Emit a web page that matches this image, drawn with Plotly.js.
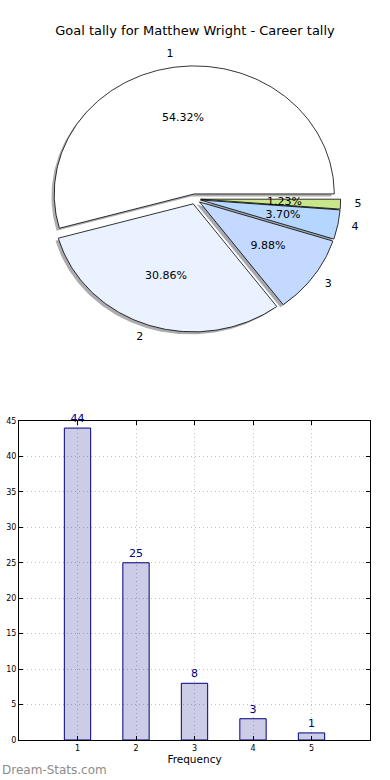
<!DOCTYPE html>
<html>
<head>
<meta charset="utf-8">
<script src="https://cdn.plot.ly/plotly-3.0.1.min.js"></script>
<style>html,body{margin:0;padding:0;background:#fff;}#chart{width:390px;height:780px;}</style>
</head>
<body>
<div id="chart"></div>
<script>
// ---- data ----
const goals = ['1', '2', '3', '4', '5'];
const goalNums = [1, 2, 3, 4, 5];
const freq = [44, 25, 8, 3, 1];
const pieColors = ['#ffffff', '#eaf1ff', '#c4d9ff', '#b4d6ff', '#c8e68c'];
const titleText = 'Goal tally for Matthew Wright - Career tally';
const xTitle = 'Frequency';
const watermark = 'Dream-Stats.com';

// ---- pie geometry (pie units: radius = 1) ----
const explode = 0.04;
const shadowOff = [-0.02, -0.02];
const total = freq.reduce((a, b) => a + b, 0);

function hexToRgb(h) {
  const n = parseInt(h.slice(1), 16);
  return [(n >> 16) & 255, (n >> 8) & 255, n & 255];
}

const traces = [];
const shadowTraces = [];
const sliceTraces = [];
const labX = [], labY = [], labPos = [];
const pctX = [], pctY = [], pctT = [];
let cum = 0;
freq.forEach((v, i) => {
  const a0 = cum / total * 2 * Math.PI;
  cum += v;
  const a1 = cum / total * 2 * Math.PI;
  const am = (a0 + a1) / 2;
  const ox = explode * Math.cos(am), oy = explode * Math.sin(am);
  const xs = [ox], ys = [oy];
  const n = Math.max(4, Math.ceil((a1 - a0) / (Math.PI / 180)));
  for (let k = 0; k <= n; k++) {
    const a = a0 + (a1 - a0) * k / n;
    xs.push(ox + Math.cos(a));
    ys.push(oy + Math.sin(a));
  }
  xs.push(ox); ys.push(oy);
  const rgb = hexToRgb(pieColors[i]);
  shadowTraces.push({
    type: 'scatter', mode: 'lines', xaxis: 'x2', yaxis: 'y2',
    x: xs.map(x => x + shadowOff[0]), y: ys.map(y => y + shadowOff[1]),
    fill: 'toself', line: {width: 0},
    fillcolor: `rgba(${Math.round(rgb[0]*0.3)},${Math.round(rgb[1]*0.3)},${Math.round(rgb[2]*0.3)},0.45)`,
    hoverinfo: 'skip', showlegend: false
  });
  sliceTraces.push({
    type: 'scatter', mode: 'lines', xaxis: 'x2', yaxis: 'y2',
    x: xs, y: ys, fill: 'toself', fillcolor: pieColors[i],
    line: {color: '#000000', width: 0.8},
    name: goals[i], hoverinfo: 'name', showlegend: false
  });
  labX.push(ox + 1.1 * Math.cos(am));
  labY.push(oy + 1.1 * Math.sin(am));
  labPos.push(Math.cos(am) > 0 ? 'middle right' : 'middle left');
  pctX.push(ox + 0.6 * Math.cos(am));
  pctY.push(oy + 0.6 * Math.sin(am));
  pctT.push((v / total * 100).toFixed(2) + '%');
});

traces.push(...shadowTraces, ...sliceTraces);
traces.push({
  type: 'scatter', mode: 'text', xaxis: 'x2', yaxis: 'y2',
  x: labX, y: labY, text: goals, textposition: labPos,
  textfont: {family: 'DejaVu Sans', size: 11, color: '#000'},
  hoverinfo: 'skip', showlegend: false, cliponaxis: false
});
traces.push({
  type: 'scatter', mode: 'text', xaxis: 'x2', yaxis: 'y2',
  x: pctX, y: pctY, text: pctT, textposition: 'middle center',
  textfont: {family: 'DejaVu Sans', size: 11, color: '#000'},
  hoverinfo: 'skip', showlegend: false, cliponaxis: false
});

// ---- bar chart ----
traces.push({
  type: 'bar', x: goalNums, y: freq, width: 0.45,
  marker: {color: 'rgba(0,0,128,0.2)', line: {color: '#000080', width: 1}},
  text: freq.map(String), textposition: 'outside',
  textfont: {family: 'DejaVu Sans', size: 11, color: '#000080'},
  cliponaxis: false, showlegend: false, hoverinfo: 'x+y'
});

const W = 390, H = 780;
const pieCx = 195, pieCy = 199, rx = 140, ry = 128;

const layout = {
  width: W, height: H,
  margin: {l: 0, r: 0, t: 0, b: 0, pad: 0},
  paper_bgcolor: '#fff', plot_bgcolor: 'rgba(0,0,0,0)',
  font: {family: 'DejaVu Sans', color: '#000'},
  title: {text: titleText, x: 0.5, xanchor: 'center', y: 1 - 30 / H, yanchor: 'middle',
          font: {family: 'DejaVu Sans', size: 13, color: '#000'}},
  showlegend: false,
  bargap: 0,
  xaxis: {
    domain: [19 / W, 370 / W], range: [0, 6],
    tickvals: goalNums, ticktext: goals,
    tickfont: {family: 'DejaVu Sans', size: 8, color: '#000'},
    ticks: 'inside', ticklen: 4, tickcolor: '#000', tickwidth: 1,
    showline: true, linecolor: '#000', linewidth: 1, mirror: 'ticks',
    showgrid: true, gridcolor: '#c4c4c4', griddash: '1px,3px', gridwidth: 1,
    zeroline: false, fixedrange: true,
    title: {text: xTitle, font: {family: 'DejaVu Sans', size: 10.5, color: '#000'}, standoff: 4}
  },
  yaxis: {
    domain: [(H - 740) / H, (H - 421) / H], range: [0, 45], dtick: 5, tick0: 0,
    tickfont: {family: 'DejaVu Sans', size: 8, color: '#000'},
    ticks: 'inside', ticklen: 4, tickcolor: '#000', tickwidth: 1,
    showline: true, linecolor: '#000', linewidth: 1, mirror: 'ticks',
    showgrid: true, gridcolor: '#c4c4c4', griddash: '1px,3px', gridwidth: 1,
    zeroline: false, fixedrange: true
  },
  xaxis2: {
    domain: [0, 1], anchor: 'y2', range: [-pieCx / rx, (W - pieCx) / rx],
    visible: false, fixedrange: true
  },
  yaxis2: {
    domain: [0, 1], anchor: 'x2', range: [-(H - pieCy) / ry, pieCy / ry],
    visible: false, fixedrange: true
  },
  annotations: [{
    text: watermark, xref: 'paper', yref: 'paper', x: 0, y: 1 - 770 / H,
    xanchor: 'left', yanchor: 'middle', showarrow: false,
    font: {family: 'DejaVu Sans', size: 12, color: '#8c8c8c'}
  }]
};

Plotly.newPlot('chart', traces, layout, {displayModeBar: false, staticPlot: true});
</script>
</body>
</html>
